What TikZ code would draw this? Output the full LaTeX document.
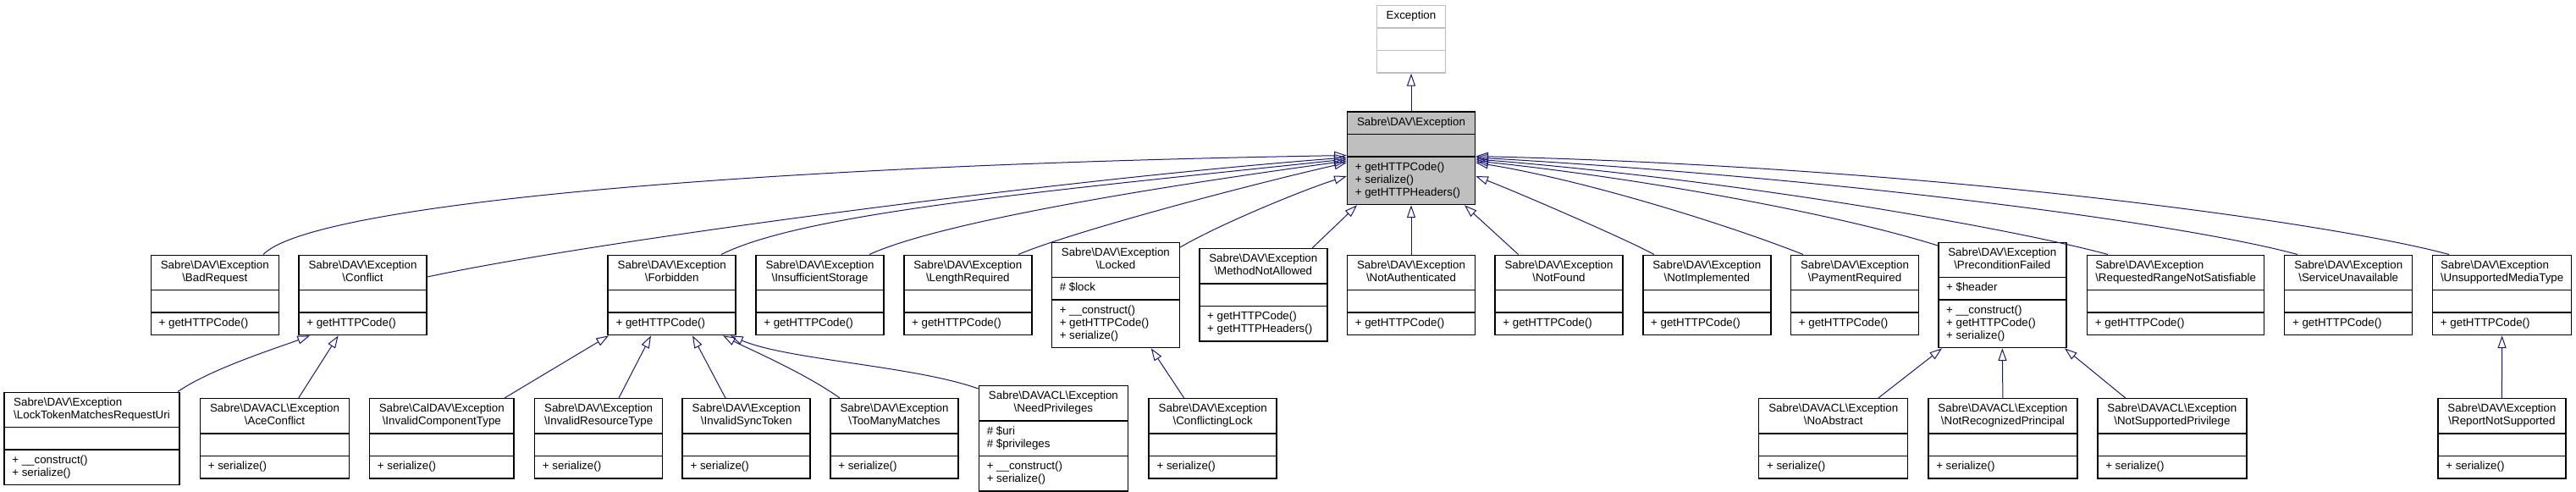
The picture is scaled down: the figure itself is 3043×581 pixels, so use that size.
\documentclass[tikz,border=0pt]{standalone}
\usepackage{fontspec}
\setmainfont{Liberation Sans}
\usetikzlibrary{shapes.multipart,arrows.meta}

\definecolor{edgeblue}{RGB}{25,25,112}
\definecolor{basegray}{RGB}{191,191,191}
\newcommand{\classfont}{\fontsize{10}{11.25}\selectfont}
\newcommand{\bsl}{\textbackslash}
\newcommand{\ctext}[1]{\begin{tabular}{@{}c@{}}#1\end{tabular}}
\newcommand{\ltext}[1]{\begin{tabular}{@{}l@{}}#1\end{tabular}}

\tikzset{every picture/.style={line width=0.75pt}}
\tikzset{
  cls/.style={rectangle split, rectangle split parts=3, draw=black, fill=white,
    line width=1.1pt, anchor=north, inner xsep=7pt, inner ysep=3.75pt, font=\classfont,
    rectangle split part align={center,left,left},
    rectangle split empty part height=7.875pt, rectangle split empty part depth=3.375pt},
  boxw/.style={minimum width=#1*0.75pt},
  inh/.style={draw=edgeblue, line width=0.75pt, -{Triangle[open,length=11pt,width=7.5pt]}},
}

\begin{document}
\begin{tikzpicture}[x=0.75pt,y=0.75pt,yscale=-1,xscale=1]
\useasboundingbox (0,0) rectangle (3043,581);

%Shape: Class [top]
\node [cls, boxw=80.6, draw=basegray] (phpexc) at (1667,6) {\ctext{Exception} \nodepart{second}\strut \nodepart{third}\strut};
%Shape: Class [base]
\node [cls, boxw=151, fill=basegray] (sdavexc) at (1667,131.5) {\ctext{Sabre\bsl DAV\bsl Exception} \nodepart{second}\strut \nodepart{third}\ltext{+ getHTTPCode()\\+ serialize()\\+ getHTTPHeaders()}};

%Shape: Class [row 1]
\node [cls, boxw=151] (badreq) at (253.8,300.5) {\ctext{Sabre\bsl DAV\bsl Exception\\\bsl BadRequest} \nodepart{second}\strut \nodepart{third}\ltext{+ getHTTPCode()}};
\node [cls, boxw=151] (conflict) at (428.5,300.5) {\ctext{Sabre\bsl DAV\bsl Exception\\\bsl Conflict} \nodepart{second}\strut \nodepart{third}\ltext{+ getHTTPCode()}};
\node [cls, boxw=151] (forbidden) at (793.7,300.5) {\ctext{Sabre\bsl DAV\bsl Exception\\\bsl Forbidden} \nodepart{second}\strut \nodepart{third}\ltext{+ getHTTPCode()}};
\node [cls, boxw=151] (insuff) at (968.5,300.5) {\ctext{Sabre\bsl DAV\bsl Exception\\\bsl InsufficientStorage} \nodepart{second}\strut \nodepart{third}\ltext{+ getHTTPCode()}};
\node [cls, boxw=151] (lengthreq) at (1143.3,300.5) {\ctext{Sabre\bsl DAV\bsl Exception\\\bsl LengthRequired} \nodepart{second}\strut \nodepart{third}\ltext{+ getHTTPCode()}};
\node [cls, boxw=151] (locked) at (1317.9,285.5) {\ctext{Sabre\bsl DAV\bsl Exception\\\bsl Locked} \nodepart{second}\ltext{\# \$lock} \nodepart{third}\ltext{+ \_\_construct()\\+ getHTTPCode()\\+ serialize()}};
\node [cls, boxw=151] (methodna) at (1492.3,293) {\ctext{Sabre\bsl DAV\bsl Exception\\\bsl MethodNotAllowed} \nodepart{second}\strut \nodepart{third}\ltext{+ getHTTPCode()\\+ getHTTPHeaders()}};
\node [cls, boxw=151] (notauth) at (1667,300.5) {\ctext{Sabre\bsl DAV\bsl Exception\\\bsl NotAuthenticated} \nodepart{second}\strut \nodepart{third}\ltext{+ getHTTPCode()}};
\node [cls, boxw=151] (notfound) at (1841.5,300.5) {\ctext{Sabre\bsl DAV\bsl Exception\\\bsl NotFound} \nodepart{second}\strut \nodepart{third}\ltext{+ getHTTPCode()}};
\node [cls, boxw=151] (notimpl) at (2016.3,300.5) {\ctext{Sabre\bsl DAV\bsl Exception\\\bsl NotImplemented} \nodepart{second}\strut \nodepart{third}\ltext{+ getHTTPCode()}};
\node [cls, boxw=151] (paymentreq) at (2191,300.5) {\ctext{Sabre\bsl DAV\bsl Exception\\\bsl PaymentRequired} \nodepart{second}\strut \nodepart{third}\ltext{+ getHTTPCode()}};
\node [cls, boxw=151] (precond) at (2365.3,285.5) {\ctext{Sabre\bsl DAV\bsl Exception\\\bsl PreconditionFailed} \nodepart{second}\ltext{+ \$header} \nodepart{third}\ltext{+ \_\_construct()\\+ getHTTPCode()\\+ serialize()}};
\node [cls, boxw=209] (reqrange) at (2570.1,300.5) {\ltext{Sabre\bsl DAV\bsl Exception\\\bsl RequestedRangeNotSatisfiable} \nodepart{second}\strut \nodepart{third}\ltext{+ getHTTPCode()}};
\node [cls, boxw=151] (serviceun) at (2774.2,300.5) {\ctext{Sabre\bsl DAV\bsl Exception\\\bsl ServiceUnavailable} \nodepart{second}\strut \nodepart{third}\ltext{+ getHTTPCode()}};
\node [cls, boxw=164] (unsupmedia) at (2955.6,300.5) {\ltext{Sabre\bsl DAV\bsl Exception\\\bsl UnsupportedMediaType} \nodepart{second}\strut \nodepart{third}\ltext{+ getHTTPCode()}};

%Shape: Class [row 2]
\node [cls, boxw=207] (locktoken) at (108.5,462.5) {\ltext{Sabre\bsl DAV\bsl Exception\\\bsl LockTokenMatchesRequestUri} \nodepart{second}\strut \nodepart{third}\ltext{+ \_\_construct()\\+ serialize()}};
\node [cls, boxw=176] (aceconflict) at (324.5,470) {\ctext{Sabre\bsl DAVACL\bsl Exception\\\bsl AceConflict} \nodepart{second}\strut \nodepart{third}\ltext{+ serialize()}};
\node [cls, boxw=170.5] (invalidcomp) at (521.8,470) {\ctext{Sabre\bsl CalDAV\bsl Exception\\\bsl InvalidComponentType} \nodepart{second}\strut \nodepart{third}\ltext{+ serialize()}};
\node [cls, boxw=151] (invalidres) at (707.1,470) {\ctext{Sabre\bsl DAV\bsl Exception\\\bsl InvalidResourceType} \nodepart{second}\strut \nodepart{third}\ltext{+ serialize()}};
\node [cls, boxw=151] (invalidsync) at (881.7,470) {\ctext{Sabre\bsl DAV\bsl Exception\\\bsl InvalidSyncToken} \nodepart{second}\strut \nodepart{third}\ltext{+ serialize()}};
\node [cls, boxw=151] (toomany) at (1056.5,470) {\ctext{Sabre\bsl DAV\bsl Exception\\\bsl TooManyMatches} \nodepart{second}\strut \nodepart{third}\ltext{+ serialize()}};
\node [cls, boxw=176] (needpriv) at (1244.4,455) {\ctext{Sabre\bsl DAVACL\bsl Exception\\\bsl NeedPrivileges} \nodepart{second}\ltext{\# \$uri\\\# \$privileges} \nodepart{third}\ltext{+ \_\_construct()\\+ serialize()}};
\node [cls, boxw=151] (conflictlock) at (1432.7,470) {\ctext{Sabre\bsl DAV\bsl Exception\\\bsl ConflictingLock} \nodepart{second}\strut \nodepart{third}\ltext{+ serialize()}};
\node [cls, boxw=176] (noabstract) at (2165.7,470) {\ctext{Sabre\bsl DAVACL\bsl Exception\\\bsl NoAbstract} \nodepart{second}\strut \nodepart{third}\ltext{+ serialize()}};
\node [cls, boxw=176] (notrecog) at (2365.9,470) {\ctext{Sabre\bsl DAVACL\bsl Exception\\\bsl NotRecognizedPrincipal} \nodepart{second}\strut \nodepart{third}\ltext{+ serialize()}};
\node [cls, boxw=176] (notsupp) at (2565.9,470) {\ctext{Sabre\bsl DAVACL\bsl Exception\\\bsl NotSupportedPrivilege} \nodepart{second}\strut \nodepart{third}\ltext{+ serialize()}};
\node [cls, boxw=151] (reportns) at (2955.4,470) {\ctext{Sabre\bsl DAV\bsl Exception\\\bsl ReportNotSupported} \nodepart{second}\strut \nodepart{third}\ltext{+ serialize()}};

%Straight Lines
\draw [inh] (sdavexc.north) -- (phpexc.south);

%Curve Lines [into base, left side]
\draw [inh] (badreq.north -| 311,0) .. controls (370,240) and (900,195) .. (sdavexc.west |- 0,183.5);
\draw [inh] (conflict.east |- 0,327) .. controls (700,285) and (1250,212) .. (sdavexc.west |- 0,186);
\draw [inh] (forbidden.north -| 852,0) .. controls (951,251) and (1242,225) .. (sdavexc.west |- 0,188);
\draw [inh] (insuff.north -| 1027,0) .. controls (1107,264) and (1342,224) .. (sdavexc.west |- 0,190);
\draw [inh] (lengthreq.north -| 1203,0) .. controls (1263,275) and (1460,222) .. (sdavexc.west |- 0,192);
\draw [inh] (locked.east |- 0,292) .. controls (1440,265) and (1540,224) .. (sdavexc.west |- 0,208);
%Straight Lines [into base, bottom]
\draw [inh] (methodna.north -| 1550,0) -- (sdavexc.south -| 1603,0);
\draw [inh] (notauth.north) -- (sdavexc.south);
\draw [inh] (notfound.north -| 1793.6,0) -- (sdavexc.south -| 1730,0);
%Curve Lines [into base, right side]
\draw [inh] (notimpl.north -| 1954,0) .. controls (1920,282) and (1790,226) .. (sdavexc.east |- 0,208);
\draw [inh] (paymentreq.north -| 2130,0) .. controls (2040,265) and (1873,213) .. (sdavexc.east |- 0,192);
\draw [inh] (precond.west |- 0,290) .. controls (2171,253) and (1943,211) .. (sdavexc.east |- 0,190);
\draw [inh] (reqrange.north -| 2490,0) .. controls (2370,268) and (2043,212) .. (sdavexc.east |- 0,188);
\draw [inh] (serviceun.north -| 2714,0) .. controls (2584,265) and (2193,212) .. (sdavexc.east |- 0,186);
\draw [inh] (unsupmedia.north -| 2893,0) .. controls (2763,265) and (2300,198) .. (sdavexc.east |- 0,184.5);

%Lines [row 2 to row 1]
\draw [inh] (locktoken.north -| 210,0) .. controls (250,435) and (330,410) .. (conflict.south -| 366,0);
\draw [inh] (aceconflict.north -| 352.7,0) -- (conflict.south -| 399.6,0);
\draw [inh] (invalidcomp.north -| 596,0) -- (forbidden.south -| 719,0);
\draw [inh] (invalidres.north -| 731,0) -- (forbidden.south -| 769,0);
\draw [inh] (invalidsync.north -| 857,0) -- (forbidden.south -| 818,0);
\draw [inh] (toomany.north -| 992,0) .. controls (950,440) and (880,410) .. (forbidden.south -| 854,0);
\draw [inh] (needpriv.west |- 0,459) .. controls (1080,432) and (930,425) .. (forbidden.south -| 863,0);
\draw [inh] (conflictlock.north -| 1398.7,0) -- (locked.south -| 1359.8,0);
\draw [inh] (noabstract.north -| 2218.8,0) -- (precond.south -| 2294,0);
\draw [inh] (notrecog.north) -- (precond.south);
\draw [inh] (notsupp.north -| 2510.8,0) -- (precond.south -| 2439,0);
\draw [inh] (reportns.north) -- (unsupmedia.south);
\end{tikzpicture}
\end{document}
